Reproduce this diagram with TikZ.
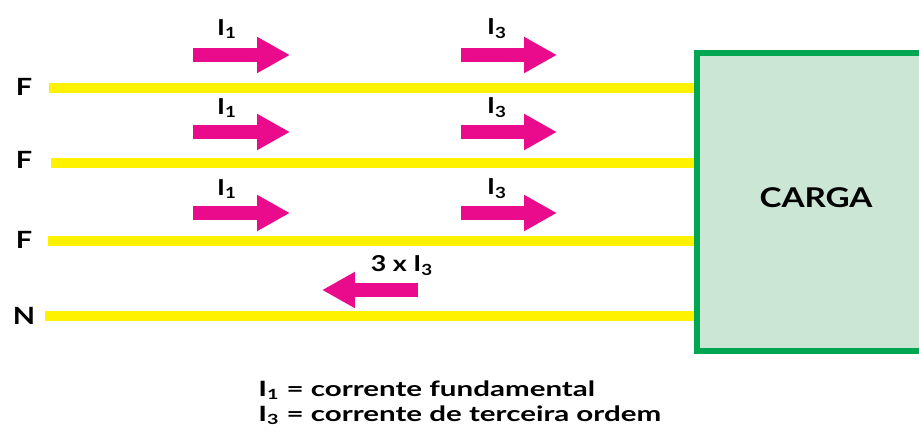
\documentclass[tikz,border=0pt]{standalone}
\usepackage{fontspec}
\setmainfont{Lato}[FakeStretch=1.22]
\newfontfamily\legfont{Lato}[FakeStretch=1.4]
\usepackage{tikz}
\usetikzlibrary{arrows.meta,positioning,calc}

\definecolor{wireyel}{HTML}{FFF200}
\definecolor{curmag}{HTML}{EA0A8C}
\definecolor{loadgrn}{HTML}{00A651}
\definecolor{loadfill}{HTML}{CCE6D5}

\begin{document}
\begin{tikzpicture}[
  x=0.02cm, y=-0.02cm, font=\bfseries,
  wire/.style={line width=0.19cm, wireyel},
  cur/.style={line width=0.28cm, curmag, -{Triangle[length=0.66cm,width=0.68cm]}},
  phase/.style={font=\fontsize{13.5}{15}\bfseries, inner sep=0pt},
  clab/.style={font=\fontsize{12.5}{14}\bfseries, inner sep=0pt},
  leg/.style={font=\fontsize{12}{14}\legfont\bfseries, inner sep=0pt, anchor=west},
]
  \useasboundingbox (0,0) rectangle (919,435);
  \clip (0,0) rectangle (919,435);

  % load
  \node[draw=loadgrn, line width=0.12cm, fill=loadfill, minimum width=4.9cm,
        minimum height=5.96cm, inner sep=0pt] (carga) at (819,202) {};
  \node[font=\fontsize{15.5}{17}\bfseries] (cargatxt) at (816,198) {CARGA};

  % conductors
  \node[phase] (f1) at (24,87) {F};
  \node[phase] (f2) at (24,160) {F};
  \node[phase] (f3) at (24,240) {F};
  \node[phase] (n) at (24,316) {N};
  \coordinate (w1) at (49,88);
  \coordinate (w2) at (51,163);
  \coordinate (w3) at (48,241);
  \coordinate (wn) at (45,316);
  \draw[wire] (w1) -- (w1 -| carga.west);
  \draw[wire] (w2) -- (w2 -| carga.west);
  \draw[wire] (w3) -- (w3 -| carga.west);
  \draw[wire] (wn) -- (wn -| carga.west);

  % currents
  \node[clab] (l11) at (227,29) {I\textsubscript{1}};
  \node[clab] (l13) at (497,29) {I\textsubscript{3}};
  \node[clab] (l21) at (227,108) {I\textsubscript{1}};
  \node[clab] (l23) at (497,108) {I\textsubscript{3}};
  \node[clab] (l31) at (227,189) {I\textsubscript{1}};
  \node[clab] (l33) at (497,189) {I\textsubscript{3}};
  \node[clab] (ln) at (402,266) {3 x I\textsubscript{3}};

  \coordinate (a11) at (193,55);
  \coordinate (a13) at (461,55);
  \coordinate (a21) at (193,132);
  \coordinate (a23) at (461,132);
  \coordinate (a31) at (193,213);
  \coordinate (a33) at (461,213);
  \coordinate (an) at (418,290);
  \draw[cur] (a11) -- ++(97,0);
  \draw[cur] (a13) -- ++(96,0);
  \draw[cur] (a21) -- ++(97,0);
  \draw[cur] (a23) -- ++(96,0);
  \draw[cur] (a31) -- ++(97,0);
  \draw[cur] (a33) -- ++(96,0);
  \draw[cur] (an) -- ++(-96,0);

  % legend
  \node[leg] (leg1) at (258,390) {I\textsubscript{1} = corrente fundamental};
  \node[leg] (leg3) at (258,415) {I\textsubscript{3} = corrente de terceira ordem};
\end{tikzpicture}
\end{document}
